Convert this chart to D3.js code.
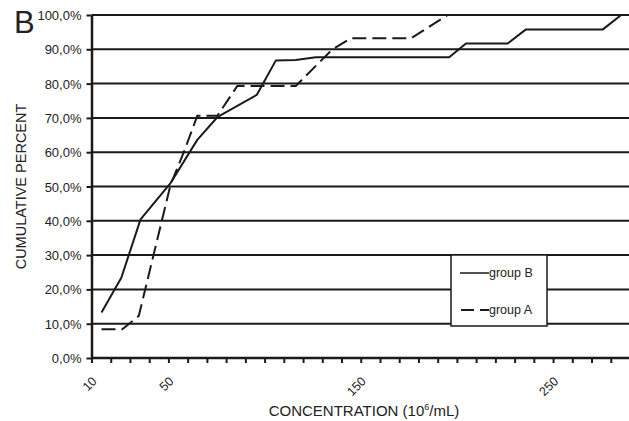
<!DOCTYPE html>
<html>
<head>
<meta charset="utf-8">
<script src="https://cdn.jsdelivr.net/npm/d3@7"></script>
<style>
  html, body { margin: 0; padding: 0; background: #fff; }
  svg { display: block; font-family: "Liberation Sans", Arial, Helvetica, sans-serif; }
</style>
</head>
<body>
<svg id="chart" width="629" height="421"></svg>
<script>
// ---- data ----
const groupB_x = [15.2, 25.5, 35.5, 51.1, 65, 75.4, 95.9, 105.8, 116.2, 126.6, 196, 204.7, 226.4, 235.9, 275.9, 285.4];
const groupB_y = [13.3, 23.4, 40.4, 51, 63.6, 70.2, 76.7, 86.7, 86.9, 87.7, 87.7, 91.7, 91.7, 95.8, 95.8, 100];
const groupA_x = [15.2, 26, 31.2, 34.6, 51.1, 58, 65, 75.4, 85.8, 116.2, 135.3, 144.8, 176.1, 195.2];
const groupA_y = [8.4, 8.4, 10.7, 12.3, 50.5, 60, 70.6, 70.6, 79.3, 79.3, 90, 93.2, 93.2, 100];
const yTicks = [0, 10, 20, 30, 40, 50, 60, 70, 80, 90, 100];
const xMinorTicks = d3.range(10, 290, 10);
const xTickLabels = [10, 50, 150, 250];
const seriesNames = ["group B", "group A"];
const panelLabel = "B";
const yTitle = "CUMULATIVE PERCENT";

(function () {
  const svg = d3.select("#chart");
  const mL = 91.5, mR = 630, mT = 15, mB = 358;
  const x = d3.scaleLinear().domain([10, 290]).range([mL, mR]);
  const y = d3.scaleLinear().domain([0, 100]).range([mB, mT]);
  const ink = "#1a1a1a";

  // gridlines
  svg.append("g").selectAll("line").data(yTicks.filter(d => d > 0)).join("line")
    .attr("x1", mL).attr("x2", 629)
    .attr("y1", d => y(d)).attr("y2", d => y(d))
    .attr("stroke", ink).attr("stroke-width", 2);

  // y axis
  const yAxis = d3.axisLeft(y).tickValues(yTicks).tickSize(5).tickSizeOuter(0)
    .tickFormat(d => d3.format(".1f")(d).replace(".", ",") + "%");
  const gy = svg.append("g").attr("transform", `translate(${mL},0)`).call(yAxis);
  gy.select(".domain").attr("stroke", ink).attr("stroke-width", 2.5);
  gy.selectAll(".tick line").attr("stroke", ink).attr("stroke-width", 2);
  gy.selectAll(".tick text").attr("x", -10).attr("dy", "0.35em")
    .attr("font-size", 13).attr("fill", "#222")
    .attr("font-family", "'Liberation Sans', Arial, sans-serif");

  // x axis
  const xAxis = d3.axisBottom(x).tickValues(xMinorTicks).tickSize(5).tickSizeOuter(0).tickFormat("");
  const gx = svg.append("g").attr("transform", `translate(0,${mB})`).call(xAxis);
  gx.select(".domain").attr("stroke", ink).attr("stroke-width", 2.5).attr("d", `M${mL},0H629`);
  gx.selectAll(".tick line").attr("stroke", ink).attr("stroke-width", 2);

  svg.append("g").selectAll("text").data(xTickLabels).join("text")
    .attr("transform", d => `translate(${x(d) + 6},${mB + 24}) rotate(-45)`)
    .attr("text-anchor", "end").attr("font-size", 12.5).attr("fill", "#222")
    .text(d => d);

  // lines
  const line = d3.line().x(d => x(d[0])).y(d => y(d[1]));
  const dataB = groupB_x.map((v, i) => [v, groupB_y[i]]);
  const dataA = groupA_x.map((v, i) => [v, groupA_y[i]]);
  svg.append("path").datum(dataB).attr("d", line)
    .attr("fill", "none").attr("stroke", ink).attr("stroke-width", 2).attr("stroke-linejoin", "round");
  svg.append("path").datum(dataA).attr("d", line)
    .attr("fill", "none").attr("stroke", ink).attr("stroke-width", 2).attr("stroke-dasharray", "14,6");

  // legend
  const lg = svg.append("g");
  lg.append("rect").attr("x", 451).attr("y", 255).attr("width", 96).attr("height", 71)
    .attr("fill", "#fff").attr("stroke", ink).attr("stroke-width", 1.5);
  lg.append("line").attr("x1", 460).attr("x2", 489).attr("y1", 273).attr("y2", 273)
    .attr("stroke", ink).attr("stroke-width", 1.5);
  lg.append("line").attr("x1", 461).attr("x2", 489).attr("y1", 310).attr("y2", 310)
    .attr("stroke", ink).attr("stroke-width", 2).attr("stroke-dasharray", "13,6");
  lg.append("text").attr("x", 489).attr("y", 277).attr("font-size", 12.5).attr("fill", "#222").text(seriesNames[0]);
  lg.append("text").attr("x", 489).attr("y", 314).attr("font-size", 12.5).attr("fill", "#222").text(seriesNames[1]);

  // titles
  svg.append("text").attr("x", 14).attr("y", 32.5).attr("font-size", 31).attr("fill", "#222").text(panelLabel);
  svg.append("text").attr("transform", `translate(26,${(mT + mB) / 2}) rotate(-90)`)
    .attr("text-anchor", "middle").attr("font-size", 14.5).attr("fill", "#222").text(yTitle);
  const xt = svg.append("text").attr("x", 364).attr("y", 416).attr("text-anchor", "middle")
    .attr("font-size", 15).attr("fill", "#222");
  xt.append("tspan").text("CONCENTRATION (10");
  xt.append("tspan").attr("font-size", 9).attr("dy", -6).text("6");
  xt.append("tspan").attr("dy", 6).text("/mL)");
})();
</script>
</body>
</html>
